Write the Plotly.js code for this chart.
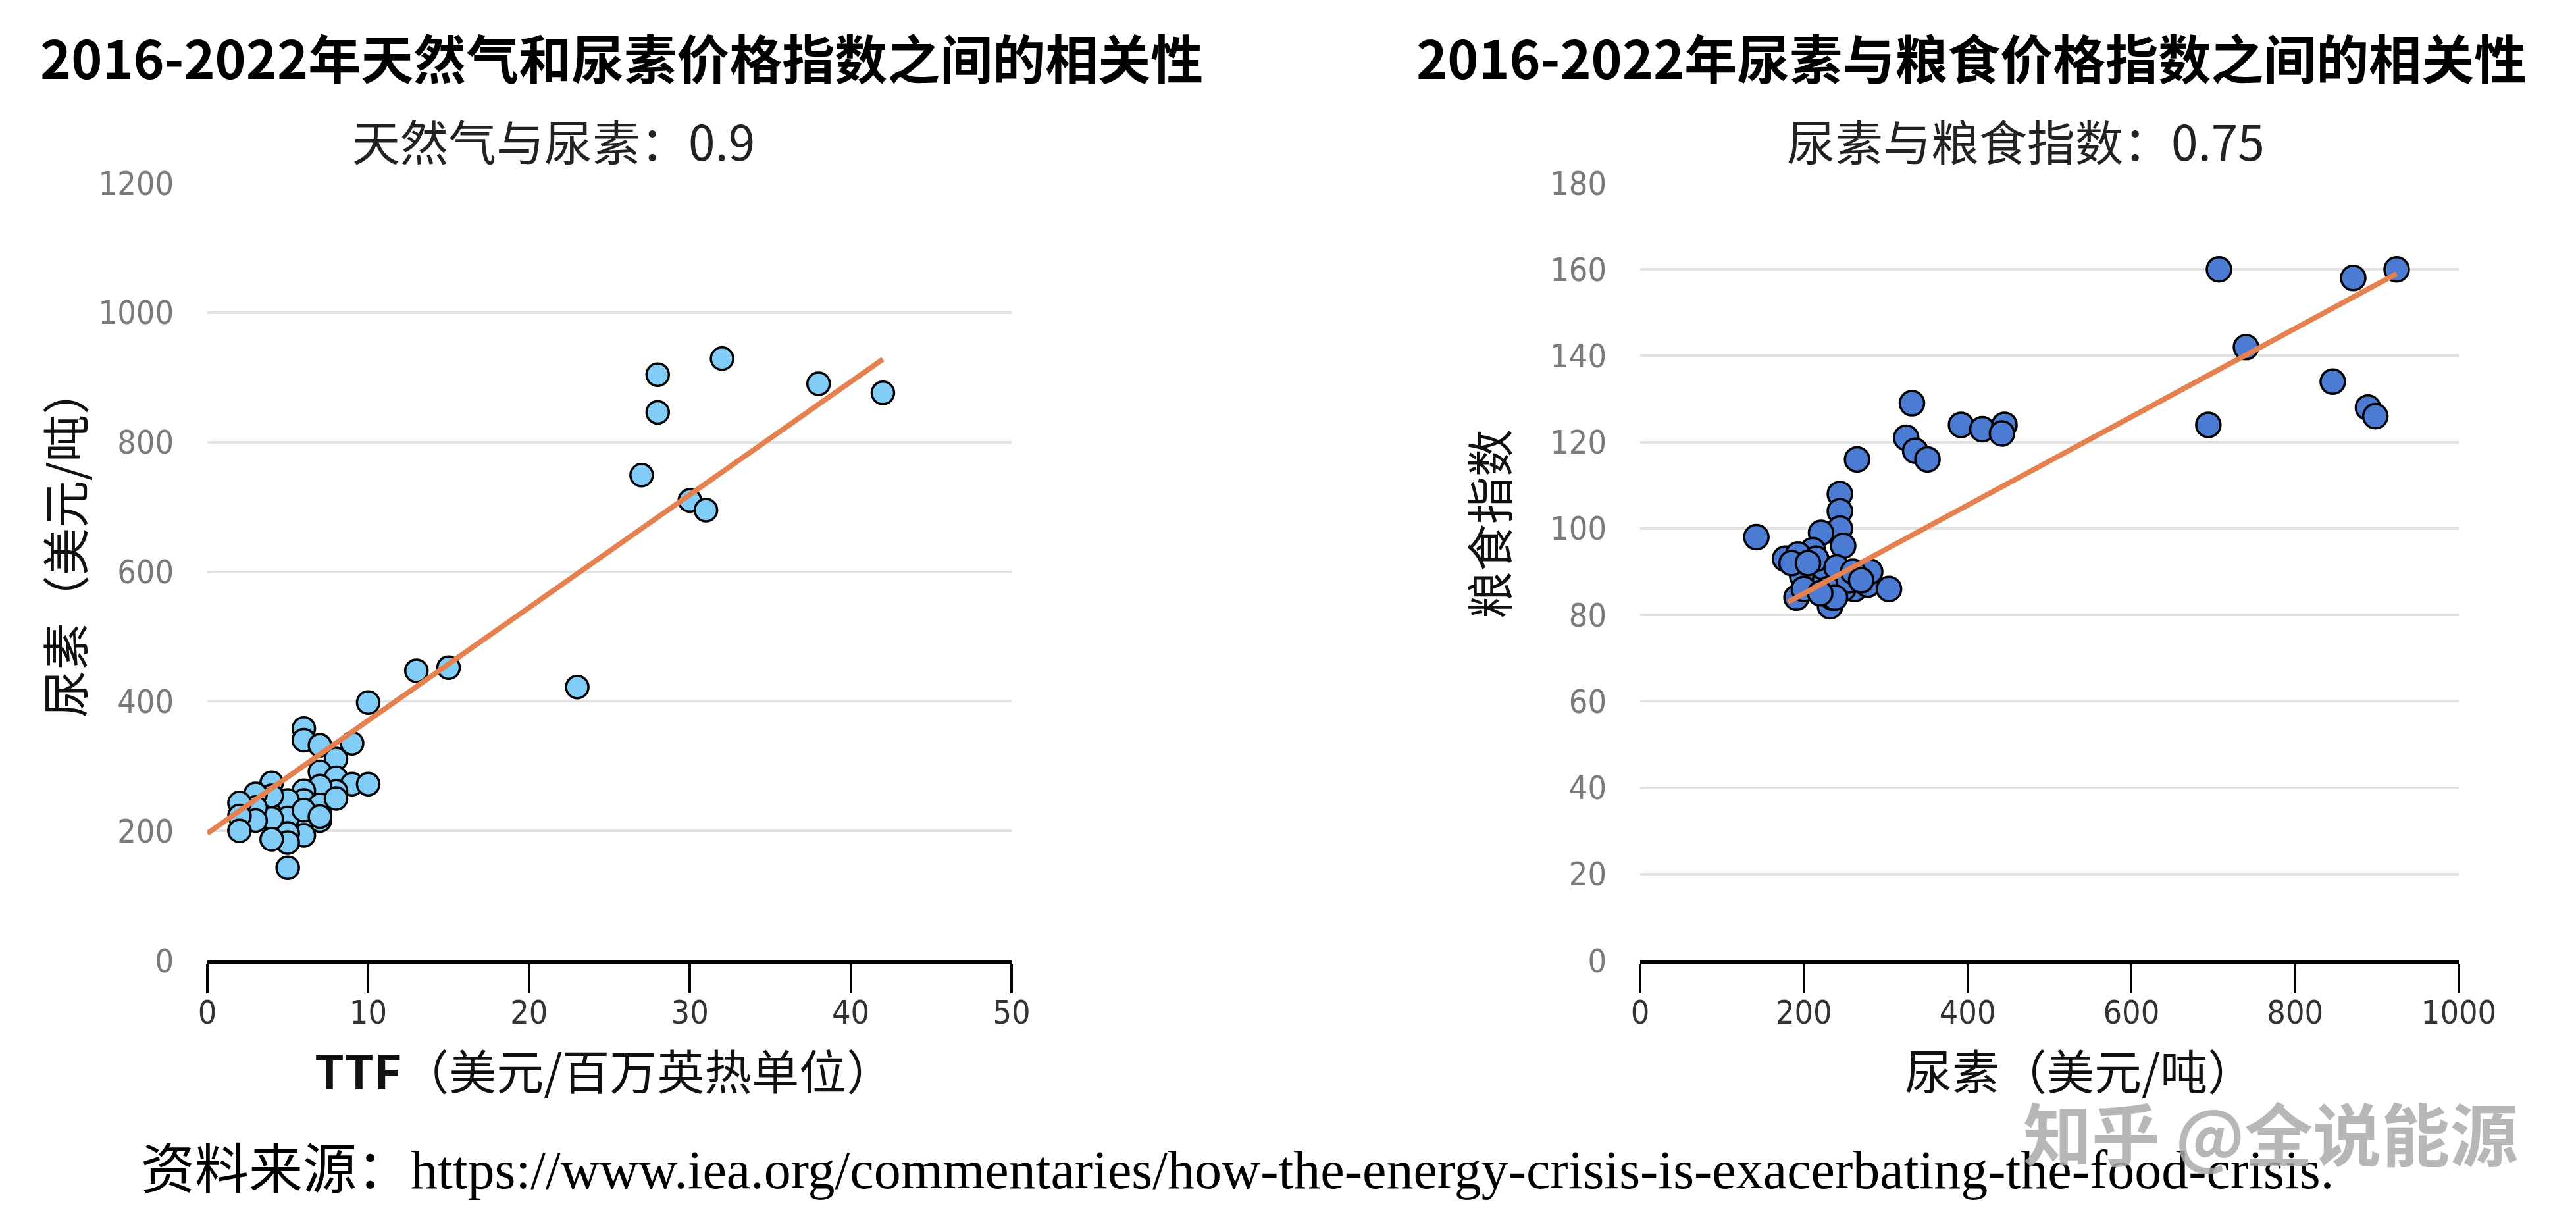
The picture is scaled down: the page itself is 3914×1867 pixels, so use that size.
<!DOCTYPE html>
<html>
<head>
<meta charset="utf-8">
<script src="https://cdn.plot.ly/plotly-3.0.1.min.js"></script>
<style>html,body{margin:0;padding:0;background:#fff;}#chart{width:3914px;height:1867px;}</style>
</head>
<body>
<div id="chart"></div>
<script>
// Left chart: TTF gas price vs urea price
const gasTTF = [28,28,32,38,42,27,30,31,23,13,15,10,6,6,7,9,8,7,8,9,10,8,7,7,7,6,6,6,6,5,5,5,5,5,4,4,4,4,3,3,3,2,2,2,7,8,6,7];
const ureaLeft = [904,846,929,890,876,749,710,695,422,447,452,398,358,340,332,335,311,291,282,272,272,261,269,226,216,262,247,220,193,247,220,196,182,143,274,254,219,187,257,236,216,243,223,200,240,250,232,222];
const trendLeftX = [0, 42];
const trendLeftY = [196, 928];

// Right chart: urea price vs food price index
const ureaRight = [332,392,418,445,442,325,336,351,265,694,244,244,244,142,221,248,181,177,211,193,211,198,191,232,235,248,262,278,281,304,226,248,224,707,871,924,740,846,889,898,185,200,215,230,240,255,238,220,205,260,270];
const foodIndex = [129,124,123,124,122,121,118,116,116,124,108,104,100,98,99,96,93,93,95,94,90,89,84,82,84,89,86,87,90,86,88,86,91,160,158,160,142,134,128,126,92,86,93,86,91,88,84,85,92,90,88];
const trendRightX = [181, 924];
const trendRightY = [83, 159];

const leftXTicks = [0,10,20,30,40,50];
const leftYTicks = [0,200,400,600,800,1000,1200];
const rightXTicks = [0,200,400,600,800,1000];
const rightYTicks = [0,20,40,60,80,100,120,140,160,180];

const titleLeft = '2016-2022年天然气和尿素价格指数之间的相关性';
const titleRight = '2016-2022年尿素与粮食价格指数之间的相关性';
const subLeft = '天然气与尿素：0.9';
const subRight = '尿素与粮食指数：0.75';
const xTitleLeft = '<b>TTF</b>（美元/百万英热单位）';
const yTitleLeft = '尿素（美元/吨）';
const xTitleRight = '尿素（美元/吨）';
const yTitleRight = '粮食指数';
const sourceText = '资料来源：https://www.iea.org/commentaries/how-the-energy-crisis-is-exacerbating-the-food-crisis.';
const watermark = '知乎 @全说能源';

const W = 3914, H = 1867;
const px = v => v / W;
const py = v => 1 - v / H;

const trendColor = '#E5804F';
const narrow = '"DejaVu Sans Condensed", "Liberation Sans Narrow", Roboto, sans-serif';
const tickFont = {family: narrow, size: 50, color: '#7a7a7a'};
const xTickFont = {family: narrow, size: 50, color: '#333'};
const cjk = '"Noto Sans CJK SC", "Noto Sans", sans-serif';

const traces = [
  {x: gasTTF, y: ureaLeft, type: 'scatter', mode: 'markers', xaxis: 'x', yaxis: 'y',
   marker: {size: 34, color: '#82CDF7', line: {color: '#000', width: 3.5}}},
  {x: trendLeftX, y: trendLeftY, type: 'scatter', mode: 'lines', xaxis: 'x', yaxis: 'y',
   line: {color: trendColor, width: 8}, hoverinfo: 'skip'},
  {x: ureaRight, y: foodIndex, type: 'scatter', mode: 'markers', xaxis: 'x2', yaxis: 'y2',
   marker: {size: 37, color: '#4C7BD4', line: {color: '#000', width: 3.5}}},
  {x: trendRightX, y: trendRightY, type: 'scatter', mode: 'lines', xaxis: 'x2', yaxis: 'y2',
   line: {color: trendColor, width: 8}, hoverinfo: 'skip'}
];

const xCommon = {showgrid: false, zeroline: false, showline: true, linecolor: '#000', linewidth: 6,
  ticks: 'outside', ticklen: 44, tickwidth: 4, tickcolor: '#000', tickfont: xTickFont,
  ticklabelstandoff: -14, fixedrange: true};
const yCommon = {showgrid: true, gridcolor: '#e2e2e2', gridwidth: 4, zeroline: false, showline: false,
  ticks: '', tickfont: tickFont, ticklabelstandoff: 50, fixedrange: true};

const layout = {
  width: W, height: H,
  margin: {l: 0, r: 0, t: 0, b: 0},
  paper_bgcolor: '#fff', plot_bgcolor: '#fff',
  showlegend: false,
  xaxis: Object.assign({}, xCommon, {domain: [px(315), px(1537)], range: [0, 50], tickvals: leftXTicks, anchor: 'y'}),
  yaxis: Object.assign({}, yCommon, {domain: [py(1459), py(278)], range: [0, 1200], tickvals: leftYTicks, anchor: 'x'}),
  xaxis2: Object.assign({}, xCommon, {domain: [px(2492), px(3736)], range: [0, 1000], tickvals: rightXTicks, anchor: 'y2'}),
  yaxis2: Object.assign({}, yCommon, {domain: [py(1459), py(278)], range: [0, 180], tickvals: rightYTicks, anchor: 'x2'}),
  annotations: [
    {text: '<b>' + titleLeft + '</b>', x: px(944), y: py(85), xref: 'paper', yref: 'paper', showarrow: false,
     xanchor: 'center', yanchor: 'middle', font: {family: cjk, size: 80, color: '#000'}},
    {text: '<b>' + titleRight + '</b>', x: px(2995), y: py(85), xref: 'paper', yref: 'paper', showarrow: false,
     xanchor: 'center', yanchor: 'middle', font: {family: cjk, size: 80, color: '#000'}},
    {text: subLeft, x: px(841), y: py(212), xref: 'paper', yref: 'paper', showarrow: false,
     xanchor: 'center', yanchor: 'middle', font: {family: cjk, size: 73, color: '#222'}},
    {text: subRight, x: px(3078), y: py(212), xref: 'paper', yref: 'paper', showarrow: false,
     xanchor: 'center', yanchor: 'middle', font: {family: cjk, size: 73, color: '#222'}},
    {text: xTitleLeft, x: px(918), y: py(1623), xref: 'paper', yref: 'paper', showarrow: false,
     xanchor: 'center', yanchor: 'middle', font: {family: cjk, size: 72, color: '#111'}},
    {text: xTitleRight, x: px(3160), y: py(1623), xref: 'paper', yref: 'paper', showarrow: false,
     xanchor: 'center', yanchor: 'middle', font: {family: cjk, size: 72, color: '#111'}},
    {text: yTitleLeft, x: px(95), y: py(824), xref: 'paper', yref: 'paper', showarrow: false, textangle: -90,
     xanchor: 'center', yanchor: 'middle', font: {family: cjk, size: 72, color: '#111'}},
    {text: yTitleRight, x: px(2259), y: py(796), xref: 'paper', yref: 'paper', showarrow: false, textangle: -90,
     xanchor: 'center', yanchor: 'middle', font: {family: cjk, size: 72, color: '#111'}},
    {text: sourceText, x: px(212), y: py(1777), xref: 'paper', yref: 'paper', showarrow: false,
     xanchor: 'left', yanchor: 'middle', font: {family: '"Liberation Serif", "Times New Roman", "Noto Sans CJK SC", serif', size: 82, color: '#000'}},
    {text: '<b>' + watermark + '</b>', x: px(3450), y: py(1718), xref: 'paper', yref: 'paper', showarrow: false,
     xanchor: 'center', yanchor: 'middle', font: {family: cjk, size: 104, color: 'rgba(170,170,170,0.85)'}}
  ]
};

Plotly.newPlot('chart', traces, layout, {staticPlot: true, displayModeBar: false});
</script>
</body>
</html>
